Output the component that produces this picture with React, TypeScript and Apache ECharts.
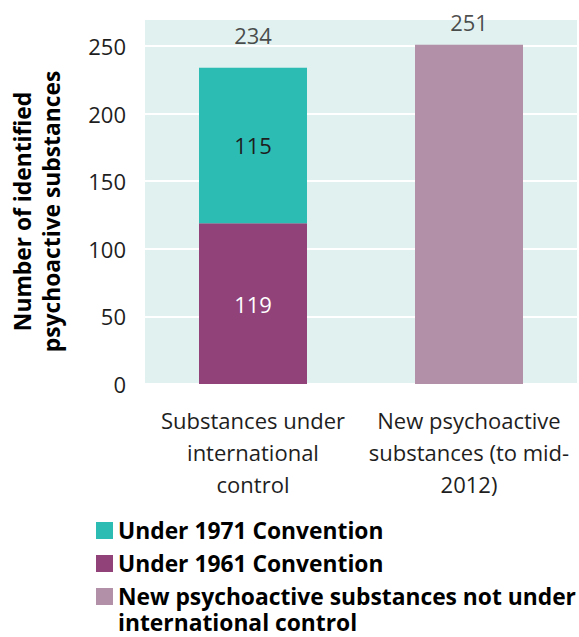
import React, { useEffect, useRef } from "react";
import * as echarts from "echarts";

const categories = [
  "Substances under\ninternational\ncontrol",
  "New psychoactive\nsubstances (to mid-\n2012)",
];
const seriesNames = [
  "Under 1971 Convention",
  "Under 1961 Convention",
  "New psychoactive substances not under international control",
];
const legendLabels = [
  "Under 1971 Convention",
  "Under 1961 Convention",
  "New psychoactive substances not under\ninternational control",
];
const under1961 = [119, null];
const under1971 = [115, null];
const newPsycho = [null, 251];
const totals = [234, 251];
const yTicks = [0, 50, 100, 150, 200, 250];

const COLORS = {
  teal: "#2CBCB4",
  purple: "#914379",
  mauve: "#B190A8",
  bg: "#E1F1EF",
  text: "#1e1e1e",
};
const FONT = "Open Sans";

export default function App() {
  const ref = useRef<HTMLDivElement>(null);
  useEffect(() => {
    if (!ref.current) return;
    document.body.style.margin = "0";
    const chart = echarts.init(ref.current, null, { renderer: "svg" });
    const legendBase = {
      orient: "vertical",
      left: 96,
      padding: 0,
      itemWidth: 17,
      itemHeight: 17,
      itemGap: 0,
      icon: "rect",
      selectedMode: false,
      textStyle: {
        fontFamily: FONT,
        fontWeight: "bold",
        fontSize: 22.8,
        lineHeight: 26,
        color: "#000",
      },
    };
    chart.setOption({
      animation: false,
      textStyle: { fontFamily: FONT },
      grid: {
        left: 145,
        right: 2,
        top: 19,
        bottom: 253,
        show: true,
        backgroundColor: COLORS.bg,
        borderWidth: 0,
      },
      legend: [
        { ...legendBase, top: 517.5, data: [seriesNames[0]], formatter: () => legendLabels[0] },
        { ...legendBase, top: 550.5, data: [seriesNames[1]], formatter: () => legendLabels[1] },
        {
          ...legendBase,
          top: 557.5,
          data: [seriesNames[2]],
          formatter: () => "\n" + legendLabels[2],
        },
      ],
      xAxis: {
        type: "category",
        data: categories,
        axisLine: { show: false },
        axisTick: { show: false },
        axisLabel: {
          margin: 20,
          fontSize: 22,
          lineHeight: 32,
          color: COLORS.text,
          fontFamily: FONT,
          interval: 0,
        },
      },
      yAxis: {
        type: "value",
        min: 0,
        max: 270,
        interval: 50,
        name: "Number of identified\npsychoactive substances",
        nameLocation: "middle",
        nameRotate: 90,
        nameGap: 79,
        nameTextStyle: {
          fontFamily: FONT,
          fontWeight: "bold",
          fontSize: 22.8,
          lineHeight: 29,
          color: "#000",
          padding: [0, 20, 0, 0],
        },
        axisLine: { show: false },
        axisTick: { show: false },
        axisLabel: {
          margin: 19,
          fontSize: 22,
          color: COLORS.text,
          fontFamily: FONT,
          formatter: (v: number) => (yTicks.includes(v) ? String(v) : ""),
        },
        splitLine: { lineStyle: { color: "#ffffff", width: 2 } },
      },
      series: [
        {
          name: seriesNames[1],
          type: "bar",
          stack: "s",
          barWidth: "50%",
          data: under1961,
          itemStyle: { color: COLORS.purple },
          label: {
            show: true,
            position: "inside",
            color: "#ffffff",
            fontSize: 22,
            fontFamily: FONT,
            formatter: (p: any) => (p.value == null ? "" : String(p.value)),
          },
        },
        {
          name: seriesNames[0],
          type: "bar",
          stack: "s",
          barWidth: "50%",
          data: under1971,
          itemStyle: { color: COLORS.teal },
          label: {
            show: true,
            position: "inside",
            color: COLORS.text,
            fontSize: 22,
            fontFamily: FONT,
            formatter: (p: any) => (p.value == null ? "" : String(p.value)),
          },
        },
        {
          name: seriesNames[2],
          type: "bar",
          stack: "s",
          barWidth: "50%",
          data: newPsycho,
          itemStyle: { color: COLORS.mauve },
        },
        {
          name: "totals",
          type: "scatter",
          symbolSize: 0,
          silent: true,
          data: [
            { value: totals[0], label: { offset: [0, -33] } },
            { value: totals[1], label: { offset: [0, -22.5] } },
          ],
          label: {
            show: true,
            position: "inside",
            color: COLORS.text,
            fontSize: 22,
            fontFamily: FONT,
            formatter: (p: any) => String(p.value),
          },
        },
      ],
    });
    return () => chart.dispose();
  }, []);
  return <div ref={ref} style={{ width: 579, height: 637 }} />;
}
